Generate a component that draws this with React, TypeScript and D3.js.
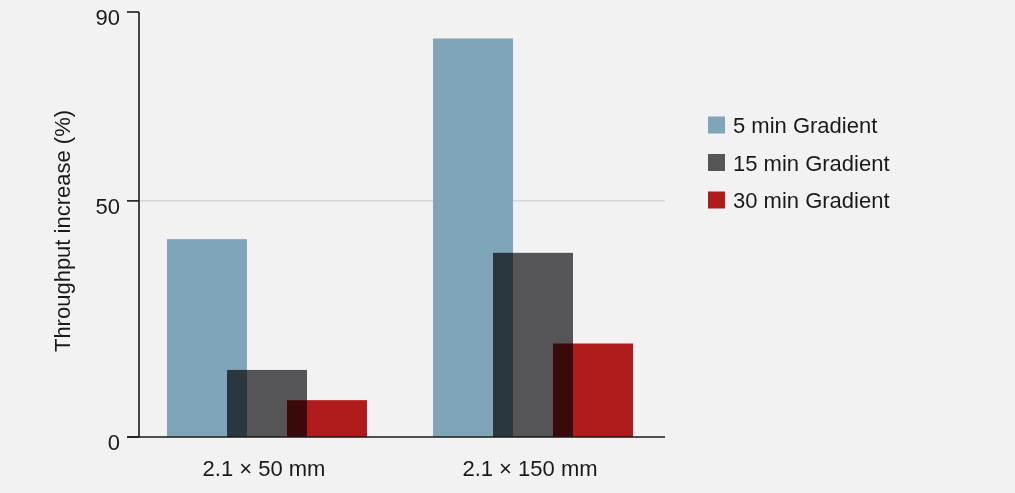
import React from "react";
import * as d3 from "d3";

const categories = ["2.1 × 50 mm", "2.1 × 150 mm"];
const series = ["5 min Gradient", "15 min Gradient", "30 min Gradient"];
const colors = ["#7ea5b8", "#555557", "#b01b1c"];
const values5 = [41.9, 84.4];
const values15 = [14.2, 39.0];
const values30 = [7.8, 19.8];
const yTicks = [0, 50, 90];

const W = 1015;
const H = 493;
const FONT = "'Liberation Sans', Arial, Helvetica, sans-serif";

export default function App() {
  const seriesValues = [values5, values15, values30];
  const x0 = d3.scaleBand<string>().domain(categories).range([134, 666]).padding(0);
  const x1 = d3.scalePoint<string>().domain(series).range([-100, 20]);
  const barW = 80;
  const y = d3.scaleLinear().domain([0, 90]).range([437, 12]);
  const axisX = 139;

  return (
    <div style={{ position: "fixed", left: 0, top: 0, width: W, height: H }}>
      <svg width={W} height={H} style={{ display: "block" }} fontFamily={FONT}>
        <rect x={0} y={0} width={W} height={H} fill="#f2f2f2" />
        {/* gridline at 50 */}
        <line x1={axisX} x2={665} y1={y(50)} y2={y(50)} stroke="#cfcfcf" strokeWidth={1.2} />
        {/* bars */}
        <g style={{ isolation: "isolate" }}>
          {categories.map((c, ci) =>
            series.map((s, si) => {
              const cx = (x0(c) as number) + x0.bandwidth() / 2;
              const v = seriesValues[si][ci];
              return (
                <rect
                  key={c + s}
                  x={cx + (x1(s) as number)}
                  y={y(v)}
                  width={barW}
                  height={y(0) - y(v)}
                  fill={colors[si]}
                  style={{ mixBlendMode: "multiply" }}
                />
              );
            })
          )}
        </g>
        {/* axes */}
        <line x1={axisX} x2={axisX} y1={y(90)} y2={y(0)} stroke="#1a1a1a" strokeWidth={1.6} />
        <line x1={127} x2={665} y1={y(0)} y2={y(0)} stroke="#1a1a1a" strokeWidth={1.6} />
        {yTicks.map((t) => (
          <g key={t}>
            <line x1={127} x2={axisX} y1={y(t)} y2={y(t)} stroke="#1a1a1a" strokeWidth={1.6} />
            <text x={120} y={y(t) + 13} textAnchor="end" fontSize={22} fill="#1a1a1a">
              {t}
            </text>
          </g>
        ))}
        {categories.map((c) => (
          <text
            key={c}
            x={(x0(c) as number) + x0.bandwidth() / 2 - 3}
            y={476}
            textAnchor="middle"
            fontSize={22}
            fill="#1a1a1a"
          >
            {c}
          </text>
        ))}
        <text
          transform={`translate(70, 231) rotate(-90)`}
          textAnchor="middle"
          fontSize={22}
          fill="#1a1a1a"
        >
          Throughput increase (%)
        </text>
        {/* legend */}
        {series.map((s, i) => {
          const cy = 125 + i * 37.5;
          return (
            <g key={s}>
              <rect x={708} y={cy - 8.5} width={17} height={17} fill={colors[i]} />
              <text x={733} y={cy + 8} fontSize={22} fill="#1a1a1a">
                {s}
              </text>
            </g>
          );
        })}
      </svg>
    </div>
  );
}
